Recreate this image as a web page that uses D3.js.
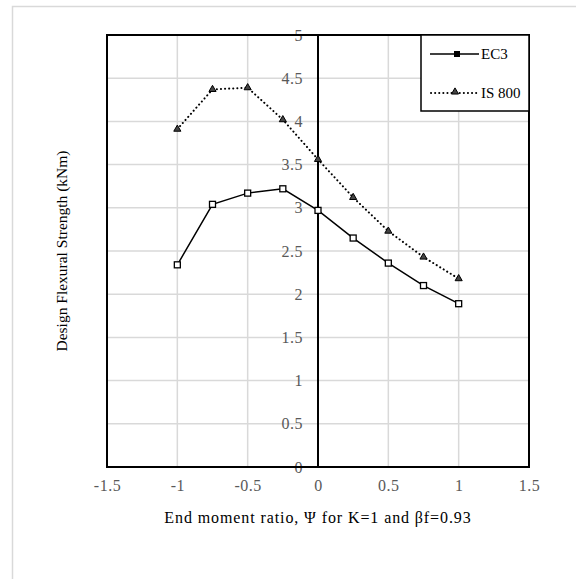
<!DOCTYPE html>
<html>
<head>
<meta charset="utf-8">
<script src="https://cdn.jsdelivr.net/npm/d3@7"></script>
<style>
  html, body { margin: 0; padding: 0; background: #fff; }
  svg { display: block; }
</style>
</head>
<body>
<svg id="chart" width="576" height="579"></svg>
<script>
// End moment ratio values
const psi = [-1, -0.75, -0.5, -0.25, 0, 0.25, 0.5, 0.75, 1];
// Design flexural strength (kNm)
const ec3 = [2.34, 3.04, 3.17, 3.22, 2.97, 2.65, 2.36, 2.10, 1.89];
const is800 = [3.91, 4.37, 4.39, 4.02, 3.56, 3.12, 2.73, 2.43, 2.18];
const xTicks = [-1.5, -1, -0.5, 0, 0.5, 1, 1.5];
const yTicks = [0, 0.5, 1, 1.5, 2, 2.5, 3, 3.5, 4, 4.5, 5];
const seriesNames = ["EC3", "IS 800"];

const svg = d3.select("#chart");
const font = "'Liberation Serif', 'Times New Roman', serif";

// outer chart frame
svg.append("rect")
  .attr("x", 12.5).attr("y", 6.5)
  .attr("width", 700).attr("height", 700)
  .attr("fill", "none").attr("stroke", "#d9d9d9").attr("stroke-width", 1.5);

const L = 107, R = 529, T = 35, B = 467;
const x = d3.scaleLinear().domain([-1.5, 1.5]).range([L, R]);
const y = d3.scaleLinear().domain([0, 5]).range([B, T]);

// gridlines
const grid = svg.append("g").attr("stroke", "#d9d9d9").attr("stroke-width", 1.5);
grid.selectAll("line.v").data(xTicks).join("line")
  .attr("x1", d => x(d)).attr("x2", d => x(d)).attr("y1", T).attr("y2", B);
grid.selectAll("line.h").data(yTicks).join("line")
  .attr("x1", L).attr("x2", R).attr("y1", d => y(d)).attr("y2", d => y(d));

// vertical axis at zero
svg.append("line")
  .attr("x1", x(0)).attr("x2", x(0)).attr("y1", T).attr("y2", B)
  .attr("stroke", "#000").attr("stroke-width", 2);

const fmt = d => String(d);

// y tick labels beside the zero axis
const yAxis = d3.axisLeft(y).tickValues(yTicks).tickSize(0).tickPadding(15)
  .tickFormat(fmt);
const yg = svg.append("g").attr("transform", `translate(${x(0)},0)`).call(yAxis);
yg.select(".domain").remove();
yg.selectAll("text").attr("font-family", font).attr("font-size", 16)
  .attr("fill", "#595959").attr("letter-spacing", 0.5);

// x axis labels
const xAxis = d3.axisBottom(x).tickValues(xTicks).tickSize(0).tickPadding(13)
  .tickFormat(fmt);
const xg = svg.append("g").attr("transform", `translate(0,${B})`).call(xAxis);
xg.select(".domain").remove();
xg.selectAll("text").attr("font-family", font).attr("font-size", 16)
  .attr("fill", "#595959").attr("letter-spacing", 0.5);

// plot border
svg.append("rect")
  .attr("x", L).attr("y", T).attr("width", R - L).attr("height", B - T)
  .attr("fill", "none").attr("stroke", "#000").attr("stroke-width", 2);

const line = d3.line().x((d, i) => x(psi[i])).y(d => y(d));

// IS 800 series (dotted, triangles)
svg.append("path").datum(is800).attr("d", line)
  .attr("fill", "none").attr("stroke", "#000").attr("stroke-width", 2)
  .attr("stroke-dasharray", "0.1,4").attr("stroke-linecap", "round");
const tri = d3.symbol().type(d3.symbolTriangle).size(22);
svg.append("g").selectAll("path").data(is800).join("path")
  .attr("d", tri)
  .attr("transform", (d, i) => `translate(${x(psi[i])},${y(d)})`)
  .attr("fill", "#444").attr("stroke", "#000").attr("stroke-width", 1);

// EC3 series (solid, squares)
svg.append("path").datum(ec3).attr("d", line)
  .attr("fill", "none").attr("stroke", "#000").attr("stroke-width", 1.5);
svg.append("g").selectAll("rect").data(ec3).join("rect")
  .attr("x", (d, i) => x(psi[i]) - 3).attr("y", d => y(d) - 3)
  .attr("width", 6).attr("height", 6)
  .attr("fill", "#fff").attr("stroke", "#000").attr("stroke-width", 1.3);

// legend
const lg = svg.append("g");
lg.append("rect").attr("x", 421).attr("y", 35).attr("width", 108).attr("height", 76)
  .attr("fill", "#fff").attr("stroke", "#000").attr("stroke-width", 1.5);
lg.append("line").attr("x1", 430).attr("x2", 479).attr("y1", 54).attr("y2", 54)
  .attr("stroke", "#000").attr("stroke-width", 1.5);
lg.append("rect").attr("x", 454).attr("y", 51).attr("width", 6).attr("height", 6).attr("fill", "#000");
lg.append("line").attr("x1", 431).attr("x2", 478).attr("y1", 93).attr("y2", 93)
  .attr("stroke", "#000").attr("stroke-width", 2)
  .attr("stroke-dasharray", "0.1,4").attr("stroke-linecap", "round");
lg.append("path").attr("d", tri).attr("transform", "translate(455,92)")
  .attr("fill", "#444").attr("stroke", "#000").attr("stroke-width", 1);
lg.selectAll("text").data(seriesNames).join("text")
  .attr("x", 481).attr("y", (d, i) => i === 0 ? 59 : 98)
  .attr("font-family", font).attr("font-size", 15).attr("fill", "#000")
  .text(d => d);

// axis titles
svg.append("text")
  .attr("x", (L + R) / 2).attr("y", 523)
  .attr("text-anchor", "middle")
  .attr("font-family", font).attr("font-size", 16).attr("fill", "#000")
  .attr("letter-spacing", 0.9)
  .text("End moment ratio, Ψ for K=1 and βf=0.93");
svg.append("text")
  .attr("transform", `translate(67,${(T + B) / 2}) rotate(-90)`)
  .attr("text-anchor", "middle")
  .attr("font-family", font).attr("font-size", 15.5).attr("fill", "#000")
  .text("Design Flexural Strength (kNm)");
</script>
</body>
</html>
